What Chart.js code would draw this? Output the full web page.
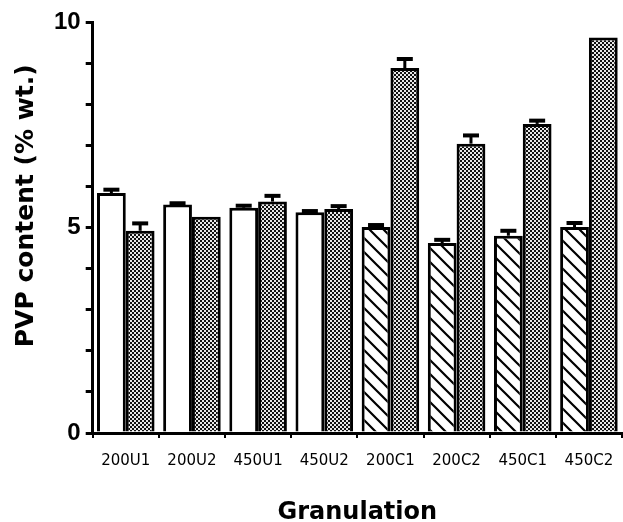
<!DOCTYPE html>
<html>
<head>
<meta charset="utf-8">
<script src="https://cdn.jsdelivr.net/npm/chart.js@4"></script>
<style>
  html, body { margin: 0; padding: 0; background: #fff; }
  #wrap { width: 623px; height: 522px; }
</style>
</head>
<body>
<div id="wrap"><canvas id="myChart"></canvas></div>
<script>
var granulations = ['200U1', '200U2', '450U1', '450U2', '200C1', '200C2', '450C1', '450C2'];
// first bar of each pair (open / hatched) and second bar (stippled)
var firstBar = [5.84, 5.56, 5.48, 5.37, 5.01, 4.62, 4.80, 5.01];
var firstErr = [0.08, 0.03, 0.05, 0.03, 0.05, 0.08, 0.12, 0.10];
var secondBar = [4.92, 5.26, 5.63, 5.45, 8.88, 7.04, 7.52, 9.62];
var secondErr = [0.18, 0, 0.14, 0.07, 0.22, 0.20, 0.08, 0];

// fill patterns
function makeStipple() {
    var c = document.createElement('canvas');
    c.width = 4; c.height = 4;
    var g = c.getContext('2d');
    g.fillStyle = '#e8e8e8';
    g.fillRect(0, 0, 4, 4);
    g.fillStyle = '#111';
    g.fillRect(0, 0, 2, 2);
    g.fillRect(2, 2, 2, 2);
    return g.createPattern(c, 'repeat');
}
function makeHatch() {
    var s = 14;
    var c = document.createElement('canvas');
    c.width = s; c.height = s;
    var g = c.getContext('2d');
    g.fillStyle = '#fff';
    g.fillRect(0, 0, s, s);
    g.strokeStyle = '#000';
    g.lineWidth = 2.2;
    g.beginPath();
    g.moveTo(-2, -2); g.lineTo(s + 2, s + 2);
    g.moveTo(-2, s - 2); g.lineTo(2, s + 2);
    g.moveTo(s - 2, -2); g.lineTo(s + 2, 2);
    g.stroke();
    return g.createPattern(c, 'repeat');
}
var stipple = makeStipple();
var hatch = makeHatch();
var firstColors = granulations.map(function (g) { return g.indexOf('C') > -1 ? hatch : '#fff'; });

// upward error bars with a thick cap
var errorBars = {
    id: 'errorBars',
    afterDatasetsDraw: function (chart) {
        var ctx = chart.ctx;
        var y = chart.scales.y;
        chart.data.datasets.forEach(function (ds, i) {
            var meta = chart.getDatasetMeta(i);
            meta.data.forEach(function (bar, j) {
                var e = ds.errors[j];
                if (!e) return;
                var top = y.getPixelForValue(ds.data[j] + e);
                ctx.save();
                ctx.strokeStyle = '#000';
                ctx.lineWidth = 3;
                ctx.beginPath();
                ctx.moveTo(bar.x, bar.y);
                ctx.lineTo(bar.x, top);
                ctx.stroke();
                ctx.lineWidth = 4;
                ctx.beginPath();
                ctx.moveTo(bar.x - 8, top);
                ctx.lineTo(bar.x + 8, top);
                ctx.stroke();
                ctx.restore();
            });
        });
    }
};

var ctx = document.getElementById('myChart').getContext('2d');
var myChart = new Chart(ctx, {
    type: 'bar',
    data: {
        labels: granulations,
        datasets: [{
            data: firstBar,
            errors: firstErr,
            backgroundColor: firstColors,
            borderColor: '#000',
            borderWidth: 3
        }, {
            data: secondBar,
            errors: secondErr,
            backgroundColor: stipple,
            borderColor: '#000',
            borderWidth: 3
        }]
    },
    options: {
        responsive: true,
        maintainAspectRatio: false,
        animation: false,
        datasets: {
            bar: { categoryPercentage: 0.87, barPercentage: 1.0 }
        },
        layout: { padding: { top: 22, right: 1, left: 0, bottom: 0 } },
        plugins: {
            legend: { display: false },
            tooltip: { enabled: false }
        },
        scales: {
            x: {
                grid: {
                    drawOnChartArea: false,
                    tickLength: 5,
                    lineWidth: 2,
                    color: '#000'
                },
                border: { color: '#000', width: 3 },
                ticks: {
                    color: '#000',
                    padding: 8,
                    font: { family: 'DejaVu Sans', size: 15, lineHeight: 2 }
                },
                title: {
                    display: true,
                    text: 'Granulation',
                    color: '#000',
                    padding: { top: 17, bottom: -3 },
                    font: { family: 'DejaVu Sans', size: 24, weight: 'bold', lineHeight: 1 }
                }
            },
            y: {
                min: 0,
                max: 10,
                grid: {
                    drawOnChartArea: false,
                    tickLength: 7,
                    lineWidth: 3,
                    color: '#000'
                },
                border: { color: '#000', width: 3 },
                ticks: {
                    stepSize: 1,
                    color: '#000',
                    padding: 5,
                    font: { family: 'Liberation Sans', size: 24, weight: 'bold' },
                    callback: function (v) { return v % 5 === 0 ? v : ''; }
                },
                title: {
                    display: true,
                    text: '     PVP content (% wt.)',
                    color: '#000',
                    padding: { top: 14, bottom: 10 },
                    font: { family: 'DejaVu Sans', size: 25, weight: 'bold', lineHeight: 1 }
                }
            }
        }
    },
    plugins: [errorBars]
});
</script>
</body>
</html>
